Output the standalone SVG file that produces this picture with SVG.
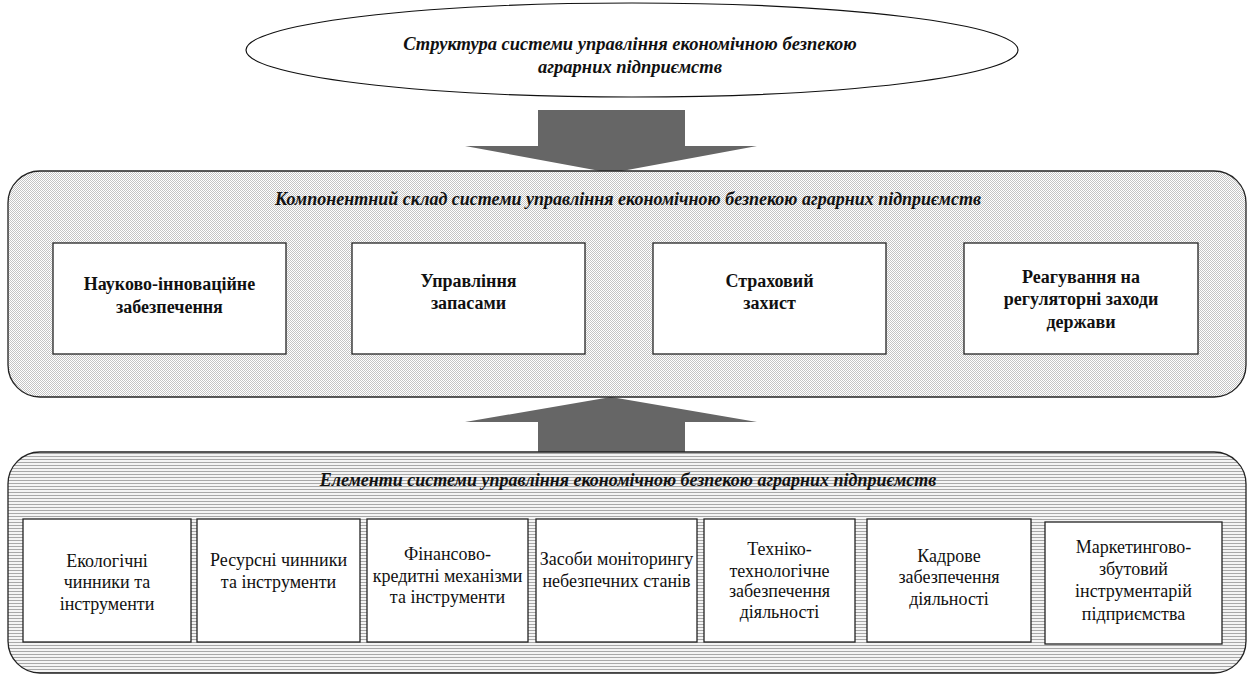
<svg xmlns="http://www.w3.org/2000/svg" width="1248" height="674" viewBox="0 0 1248 674">
<defs>
<pattern id="dots" width="2" height="2" patternUnits="userSpaceOnUse">
<rect width="2" height="2" fill="#ffffff"/>
<rect width="1" height="1" fill="#c4c4c4"/>
<rect x="1" y="1" width="1" height="1" fill="#c4c4c4"/>
</pattern>
<pattern id="hlines" width="3" height="3" patternUnits="userSpaceOnUse">
<rect width="3" height="3" fill="#f4f4f4"/>
<rect width="3" height="1" fill="#a8a8a8"/>
</pattern>
</defs>
<style>
.frame{stroke:#222;stroke-width:1.3}
.box{fill:#fff;stroke:#222;stroke-width:1.3}
.arrow{fill:#666;stroke:none}
text{font-family:'Liberation Serif','DejaVu Serif','Times New Roman',serif;fill:#111;text-anchor:middle}
.title{font-weight:bold;font-style:italic;font-size:18px}
.etitle{font-weight:bold;font-style:italic;font-size:18.5px}
.btxt{font-weight:bold;font-size:18px}
.rtxt{font-size:18px}
</style>
<g id="connectors">
<polygon class="arrow" points="538,110 685,110 685,146 757,146 611,173 465,146 538,146"/>
<polygon class="arrow" points="611,397 757,422 685,422 685,453 538,453 538,422 465,422"/>
</g>
<g id="top-ellipse">
<ellipse cx="632" cy="50" rx="386" ry="47" fill="#fff" stroke="#111" stroke-width="1.2"/>
<text class="etitle" x="630" y="50">Структура системи управління економічною безпекою</text>
<text class="etitle" x="630" y="73">аграрних підприємств</text>
</g>
<g id="components">
<rect class="frame" x="8" y="171" width="1238" height="226" rx="32" fill="url(#dots)"/>
<text class="title" x="628" y="205">Компонентний склад системи управління економічною безпекою аграрних підприємств</text>
</g>
<g id="comp1">
<rect class="box" x="53" y="243" width="233" height="111"/>
<text class="btxt" x="169.5" y="290">Науково-інноваційне</text>
<text class="btxt" x="169.5" y="313">забезпечення</text>
</g>
<g id="comp2">
<rect class="box" x="352" y="243" width="233" height="111"/>
<text class="btxt" x="468.5" y="287">Управління</text>
<text class="btxt" x="468.5" y="309">запасами</text>
</g>
<g id="comp3">
<rect class="box" x="653" y="243" width="233" height="111"/>
<text class="btxt" x="769.5" y="287">Страховий</text>
<text class="btxt" x="769.5" y="309">захист</text>
</g>
<g id="comp4">
<rect class="box" x="964" y="243" width="234" height="111"/>
<text class="btxt" x="1081" y="283">Реагування на</text>
<text class="btxt" x="1081" y="305">регуляторні заходи</text>
<text class="btxt" x="1081" y="328">держави</text>
</g>
<g id="elements">
<rect class="frame" x="8" y="452" width="1238" height="221" rx="32" fill="url(#hlines)"/>
<text class="title" x="628" y="486">Елементи системи управління економічною безпекою аграрних підприємств</text>
</g>
<g id="el1">
<rect class="box" x="23" y="519" width="168" height="123"/>
<text class="rtxt" x="107" y="567">Екологічні</text>
<text class="rtxt" x="107" y="588">чинники та</text>
<text class="rtxt" x="107" y="610">інструменти</text>
</g>
<g id="el2">
<rect class="box" x="197" y="519" width="163" height="123"/>
<text class="rtxt" x="278.5" y="566">Ресурсні чинники</text>
<text class="rtxt" x="278.5" y="588">та інструменти</text>
</g>
<g id="el3">
<rect class="box" x="367" y="519" width="161" height="123"/>
<text class="rtxt" x="447.5" y="560">Фінансово-</text>
<text class="rtxt" x="447.5" y="582">кредитні механізми</text>
<text class="rtxt" x="447.5" y="603">та інструменти</text>
</g>
<g id="el4">
<rect class="box" x="536" y="519" width="161" height="123"/>
<text class="rtxt" x="616.5" y="565">Засоби моніторингу</text>
<text class="rtxt" x="616.5" y="587">небезпечних станів</text>
</g>
<g id="el5">
<rect class="box" x="704" y="519" width="151" height="123"/>
<text class="rtxt" x="779.5" y="555">Техніко-</text>
<text class="rtxt" x="779.5" y="577">технологічне</text>
<text class="rtxt" x="779.5" y="597">забезпечення</text>
<text class="rtxt" x="779.5" y="618">діяльності</text>
</g>
<g id="el6">
<rect class="box" x="867" y="519" width="164" height="123"/>
<text class="rtxt" x="949" y="562">Кадрове</text>
<text class="rtxt" x="949" y="583">забезпечення</text>
<text class="rtxt" x="949" y="605">діяльності</text>
</g>
<g id="el7">
<rect class="box" x="1045" y="522" width="177" height="122"/>
<text class="rtxt" x="1133.5" y="553">Маркетингово-</text>
<text class="rtxt" x="1133.5" y="575">збутовий</text>
<text class="rtxt" x="1133.5" y="597">інструментарій</text>
<text class="rtxt" x="1133.5" y="620">підприємства</text>
</g>
</svg>
